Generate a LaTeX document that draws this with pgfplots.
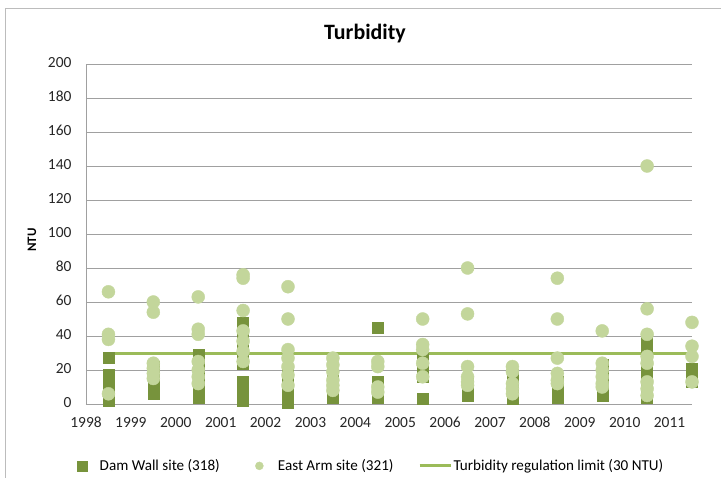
\documentclass[border=0pt]{standalone}
\usepackage{pgfplots}
\pgfplotsset{compat=1.18}
\usepackage{fontspec}
\setmainfont{Carlito}
\definecolor{dam}{HTML}{77933C}
\definecolor{east}{HTML}{C3D69B}
\definecolor{limit}{HTML}{9BBB59}
\definecolor{gridc}{HTML}{A0A0A0}
\begin{document}
\begin{tikzpicture}
\path[use as bounding box] (-86bp,-74bp) rectangle (635bp,404bp);
\draw[gridc!70] (-81bp,-74bp) -- (-81bp,396bp) -- (635bp,396bp);
\begin{axis}[
  at={(0,0)}, anchor=south west,
  scale only axis, width=606bp, height=340bp,
  xmin=1998, xmax=2011.5, ymin=0, ymax=200,
  xtick={1998,1999,2000,2001,2002,2003,2004,2005,2006,2007,2008,2009,2010,2011},
  ytick={0,20,...,200},
  major tick length=0pt,
  axis x line*=bottom, axis y line*=left,
  axis line style={gridc, line width=0.8bp, -},
  ymajorgrids, grid style={gridc, line width=0.8bp},
  clip=false,
  /pgf/number format/assume math mode=true,
  /pgf/number format/1000 sep={},
  typeset ticklabels with strut,
  ticklabel style={font=\fontsize{15.5}{18}\selectfont, text=black!85},
  xticklabel style={anchor=center, yshift=-20bp},
  yticklabel style={xshift=-11bp},
  ylabel={NTU},
  ylabel style={at={(axis description cs:-0.089,0.482)}, anchor=center, font=\fontsize{13}{15}\selectfont\bfseries},
  legend columns=3,
  legend style={at={(-0.0153,-0.182)}, anchor=west, draw=none, fill=none,
    inner sep=0pt, outer sep=0pt,
    font=\fontsize{15.2}{18}\selectfont, column sep=0pt,
    nodes={inner sep=0pt, outer sep=0pt},
    /tikz/column 2/.style={column sep=35.3bp},
    /tikz/column 4/.style={column sep=24.7bp}},
]
\addplot[only marks, mark=square*, mark size=5.5bp, color=dam, mark options={draw=dam, fill=dam},
  legend image code/.code={\fill[dam] (0bp,-5bp) rectangle (10bp,5bp); \path (22.6bp,0bp);}] coordinates {
(1998.5,2)(1998.5,4)(1998.5,6)(1998.5,8)(1998.5,10)(1998.5,12)(1998.5,14)(1998.5,16)(1998.5,17)(1998.5,27)
(1999.5,6)(1999.5,8)(1999.5,10)(1999.5,12)(1999.5,14)(1999.5,16)(1999.5,18)(1999.5,20)(1999.5,22)
(2000.5,4)(2000.5,6)(2000.5,8)(2000.5,10)(2000.5,12)(2000.5,14)(2000.5,16)(2000.5,18)(2000.5,20)(2000.5,22)(2000.5,24)(2000.5,26)(2000.5,29)
(2001.5,2)(2001.5,4)(2001.5,6)(2001.5,8)(2001.5,10)(2001.5,13)
(2001.5,24)(2001.5,26)(2001.5,28)(2001.5,30)(2001.5,32)(2001.5,34)(2001.5,36)(2001.5,38)(2001.5,40)(2001.5,42)(2001.5,44)(2001.5,46)(2001.5,48)
(2002.5,1)(2002.5,3)(2002.5,5)(2002.5,7)(2002.5,9)(2002.5,11)(2002.5,13)(2002.5,15)(2002.5,17)(2002.5,19)
(2003.5,4)(2003.5,6)(2003.5,8)(2003.5,10)(2003.5,12)(2003.5,14)
(2004.5,4)(2004.5,6)(2004.5,8)(2004.5,10)(2004.5,13)(2004.5,45)
(2005.5,3)(2005.5,16)(2005.5,18)(2005.5,20)(2005.5,22)(2005.5,24)(2005.5,27)
(2006.5,5)(2006.5,7)(2006.5,9)(2006.5,11)(2006.5,13)
(2007.5,3)(2007.5,5)(2007.5,7)(2007.5,9)(2007.5,11)(2007.5,13)(2007.5,15)(2007.5,17)
(2008.5,4)(2008.5,6)(2008.5,8)(2008.5,10)(2008.5,13)
(2009.5,5)(2009.5,7)(2009.5,9)(2009.5,11)(2009.5,13)(2009.5,15)(2009.5,17)(2009.5,19)(2009.5,21)(2009.5,23)
(2010.5,4)(2010.5,6)(2010.5,8)(2010.5,10)(2010.5,12)(2010.5,14)(2010.5,16)(2010.5,18)(2010.5,20)(2010.5,22)(2010.5,24)(2010.5,26)(2010.5,28)(2010.5,30)(2010.5,37)
(2011.5,13)(2011.5,15)(2011.5,17)(2011.5,19)(2011.5,21)
};
\addlegendentry{Dam Wall site (318)}
\addplot[only marks, mark=*, mark size=6.5bp, color=east, mark options={draw=east, fill=east},
  legend image code/.code={\fill[east] (4bp,0bp) circle (4bp); \path (22.3bp,0bp);}] coordinates {
(1998.5,66)(1998.5,41)(1998.5,38)(1998.5,6)
(1999.5,60)(1999.5,54)(1999.5,24)(1999.5,21)(1999.5,18)(1999.5,15)
(2000.5,63)(2000.5,44)(2000.5,41)(2000.5,25)(2000.5,20)(2000.5,16)(2000.5,12)
(2001.5,76)(2001.5,74)(2001.5,55)(2001.5,43)(2001.5,37)(2001.5,31)(2001.5,25)
(2002.5,69)(2002.5,50)(2002.5,32)(2002.5,27)(2002.5,22)(2002.5,17)(2002.5,11)
(2003.5,27)(2003.5,23)(2003.5,19)(2003.5,14)(2003.5,11)(2003.5,8)
(2004.5,25)(2004.5,22)(2004.5,10)(2004.5,7)
(2005.5,50)(2005.5,35)(2005.5,32)(2005.5,24)(2005.5,16)
(2006.5,80)(2006.5,53)(2006.5,22)(2006.5,16)(2006.5,13)(2006.5,11)
(2007.5,22)(2007.5,19)(2007.5,12)(2007.5,9)(2007.5,6)
(2008.5,74)(2008.5,50)(2008.5,27)(2008.5,18)(2008.5,14)(2008.5,12)
(2009.5,43)(2009.5,24)(2009.5,20)(2009.5,16)(2009.5,12)(2009.5,10)
(2010.5,140)(2010.5,56)(2010.5,41)(2010.5,28)(2010.5,24)(2010.5,13)(2010.5,9)(2010.5,5)
(2011.5,48)(2011.5,34)(2011.5,28)(2011.5,13)
};
\addlegendentry{East Arm site (321)}
\addplot[limit, line width=3bp, no marks,
  legend image code/.code={\draw[limit, line width=3bp] (0bp,0bp) -- (31bp,0bp); \path (32.3bp,0bp);}] coordinates {(1998.5,30)(2011.5,30)};
\addlegendentry{Turbidity regulation limit (30 NTU)}
\end{axis}
\node[font=\fontsize{22}{26}\selectfont\bfseries] at (279bp,370bp) {Turbidity};
\end{tikzpicture}
\end{document}
